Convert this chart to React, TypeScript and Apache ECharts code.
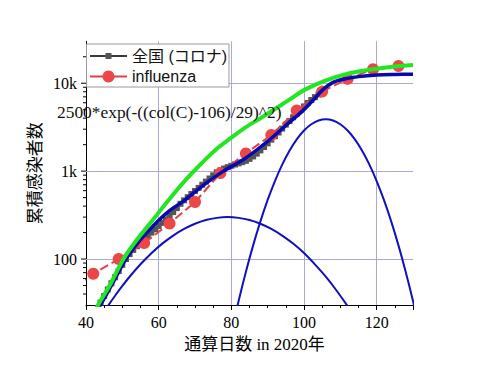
import React, { useEffect, useRef } from 'react';
import * as echarts from 'echarts';

// ---- data ----
const xGridValues = [60, 80, 100, 120];
const yMajorTicks = [100, 1000, 10000];
const yTickLabels = ['100', '1k', '10k'];
const yMinorTicks = [40, 50, 60, 70, 80, 90, 200, 300, 400, 500, 600, 700, 800, 900,
  2000, 3000, 4000, 5000, 6000, 7000, 8000, 9000, 20000];

const coronaDays = [44, 45, 46, 47, 48, 49, 50, 51, 52, 53, 54, 55, 56, 57, 58, 59, 60, 61, 62, 63,
  64, 65, 66, 67, 68, 69, 70, 71, 72, 73, 74, 75, 76, 77, 78, 79, 80, 81, 82, 83, 84, 85, 86, 87,
  88, 89, 90, 91, 92, 93, 94, 95, 96, 97, 98, 99, 100, 101, 102, 103, 104, 105];
const coronaCases = [32, 38, 45, 53, 62, 73, 86, 100, 114, 127, 140, 154, 168, 183, 200, 218, 238,
  258, 282, 310, 342, 380, 425, 465, 505, 550, 595, 645, 700, 760, 825, 895, 970, 1020, 1070, 1110,
  1150, 1190, 1225, 1265, 1310, 1380, 1470, 1580, 1720, 1880, 2070, 2280, 2500, 2750, 3050, 3380,
  3720, 4100, 4500, 4950, 5450, 5950, 6450, 6950, 7450, 8000];

const fluDays = [35, 42, 49, 56, 63, 70, 77, 84, 91, 98, 105, 112, 119, 126];
const fluCases = [43, 68, 100, 152, 254, 445, 950, 1590, 2580, 4890, 8030, 11200, 14400, 15700];

const fitDays = [42, 44, 47, 51, 55, 59, 63, 67.3, 72, 77.8, 84, 90.6, 95, 100, 103, 105.3, 108,
  110.8, 115, 120, 125, 130];
const fitValues = [20, 30, 50, 100, 166, 251, 355, 472, 676, 1000, 1413, 2290, 3310, 5010, 6760,
  8510, 10230, 11100, 11890, 12420, 12590, 12650];

const greenDays = [42, 43.3, 46.5, 50.3, 54, 58, 62.8, 67.5, 72, 76, 80, 84, 88, 92, 96, 100, 105,
  110, 115, 120, 125, 130];
const greenValues = [23, 30, 50, 100, 166, 265, 472, 800, 1250, 1800, 2400, 3170, 4000, 5100, 6500,
  8350, 10350, 12200, 13600, 14620, 15490, 16140];

const g1Days = [44, 46, 48, 50, 52, 55, 58, 61, 64, 67, 70, 73, 76, 79, 82, 85, 88, 91, 94, 97, 100,
  103, 106, 109, 112, 114];
const g1Values = [21.7, 29.1, 38.2, 49.4, 62.9, 87.3, 116.6, 149.8, 185, 220, 252, 278, 294, 300,
  294, 278, 252, 220, 185, 150, 117, 87, 63, 43.6, 29.1, 21.7];

const g2Days = [80, 82, 84, 86, 88, 90, 92, 94, 96, 98, 100, 102, 104, 106, 108, 110, 112, 114, 116,
  118, 120, 122, 124, 126, 128, 130, 132];
const g2Values = [14.6, 33.4, 71.4, 143, 268, 470, 772, 1186, 1707, 2298, 2897, 3417, 3773, 3900,
  3773, 3417, 2897, 2298, 1707, 1186, 772, 470, 268, 143, 71.4, 33.4, 14.6];

const formulaText = '2500*exp(-((col(C)-106)/29)^2)';
const coronaName = '全国 (コロナ)';
const fluName = 'influenza';

const zip = (xs: number[], ys: number[]) => xs.map((x, i) => [x, ys[i]]);

const SERIF = "'Liberation Serif', 'Times New Roman', serif";
const SANS = "'Liberation Sans', 'Noto Sans CJK JP', sans-serif";

export default function App() {
  const ref = useRef<HTMLDivElement>(null);
  useEffect(() => {
    document.body.style.margin = '0';
    if (!ref.current) return;
    const chart = echarts.init(ref.current, undefined, { renderer: 'svg' });
    const tickData = [
      ...yMajorTicks.map((v) => [40, v, 5]),
      ...yMinorTicks.map((v) => [40, v, 3]),
    ];
    const thinBlue = { color: '#1010c0', width: 2 };
    chart.setOption({
      animation: false,
      backgroundColor: '#fff',
      grid: { left: 86, right: 67, top: 41.3, bottom: 62 },
      xAxis: {
        type: 'value', min: 40, max: 130, interval: 20,
        axisLine: { show: true, onZero: false, lineStyle: { color: '#000', width: 1 } },
        axisTick: { show: true, length: 5, lineStyle: { color: '#000' } },
        minorTick: { show: true, splitNumber: 4, length: 3, lineStyle: { color: '#000' } },
        splitLine: { show: false },
        axisLabel: { fontSize: 16, fontFamily: SERIF, color: '#000', margin: 9, showMaxLabel: false },
        name: '通算日数 in 2020年', nameLocation: 'middle', nameGap: 31,
        nameTextStyle: { fontSize: 17, fontFamily: "'Liberation Serif', 'Noto Sans CJK JP'", color: '#000', padding: [0, 0, 0, 10] },
      },
      yAxis: {
        type: 'log', logBase: 10, min: 30, max: 30000,
        axisLine: { show: true, lineStyle: { color: '#000', width: 1 } },
        axisTick: { show: false },
        splitLine: { show: false },
        axisLabel: {
          fontSize: 16, fontFamily: SERIF, color: '#000', margin: 9,
          formatter: (v: number) => {
            const i = yMajorTicks.findIndex((t) => Math.abs(Math.log10(v) - Math.log10(t)) < 0.01);
            return i >= 0 ? yTickLabels[i] : '';
          },
        },
        name: '累積感染者数', nameLocation: 'middle', nameGap: 41, nameRotate: 90,
        nameTextStyle: { fontSize: 17, fontFamily: "'Noto Sans CJK JP'", color: '#000' },
      },
      legend: [
        {
          data: [coronaName], left: 89, top: 47, padding: 0, itemWidth: 37, itemHeight: 7.5,
          selectedMode: false, z: 10,
          textStyle: { fontSize: 16, fontFamily: SANS, color: '#111', lineHeight: 18 },
        },
        {
          data: [{ name: fluName, lineStyle: { type: 'solid' } }], left: 89, top: 67.5, padding: 0,
          itemWidth: 37, itemHeight: 15, selectedMode: false, z: 10,
          textStyle: { fontSize: 16, fontFamily: SANS, color: '#111', lineHeight: 18 },
        },
      ],
      graphic: [
        {
          type: 'rect', z: 9, silent: true,
          shape: { x: 86.5, y: 44, width: 142.5, height: 43 },
          style: { fill: '#fff', stroke: '#999', lineWidth: 1 },
        },
        {
          type: 'text', z: 9, silent: true, x: 57, y: 112,
          style: { text: formulaText, fontSize: 17.4, fontFamily: SERIF, fill: '#111', verticalAlign: 'middle', align: 'left' },
        },
      ],
      series: [
        {
          type: 'line', data: zip(g1Days, g1Values), smooth: 0.3, symbol: 'none',
          lineStyle: thinBlue, z: 3, silent: true,
          markLine: {
            silent: true, symbol: ['none', 'none'], label: { show: false }, z: 1,
            lineStyle: { color: '#a8a8de', width: 1, type: 'solid' },
            emphasis: { disabled: true },
            data: [
              ...xGridValues.map((v) => ({ xAxis: v })),
              ...yMajorTicks.map((v) => ({ yAxis: v })),
            ],
          },
        },
        {
          type: 'line', data: zip(g2Days, g2Values), smooth: 0.3, symbol: 'none',
          lineStyle: thinBlue, z: 3, silent: true,
        },
        {
          type: 'line', name: coronaName, data: zip(coronaDays, coronaCases),
          symbol: 'rect', symbolSize: 6, showAllSymbol: true,
          lineStyle: { color: '#3a3a3a', width: 2 }, itemStyle: { color: '#555555' }, z: 2,
        },
        {
          type: 'line', name: fluName, data: zip(fluDays, fluCases),
          symbol: 'circle', symbolSize: 12,
          lineStyle: { color: '#dc4444', width: 2, type: [9, 4] }, itemStyle: { color: '#ee4646' }, z: 3,
        },
        {
          type: 'line', data: zip(fitDays, fitValues), smooth: 0.3, symbol: 'none',
          lineStyle: { color: '#0808b0', width: 3.5 }, z: 4, silent: true,
        },
        {
          type: 'line', data: zip(greenDays, greenValues), smooth: 0.4, symbol: 'none',
          lineStyle: { color: '#22e622', width: 4 }, z: 5, silent: true,
        },
        {
          type: 'custom', data: tickData, clip: false, silent: true, z: 6,
          renderItem: (_p: any, api: any) => {
            const pt = api.coord([api.value(0), api.value(1)]);
            const len = api.value(2);
            return {
              type: 'line',
              shape: { x1: pt[0] - len, y1: pt[1], x2: pt[0], y2: pt[1] },
              style: { stroke: '#000', lineWidth: 1 },
            };
          },
        },
      ],
    });
    return () => chart.dispose();
  }, []);
  return <div ref={ref} style={{ width: 480, height: 367 }} />;
}
